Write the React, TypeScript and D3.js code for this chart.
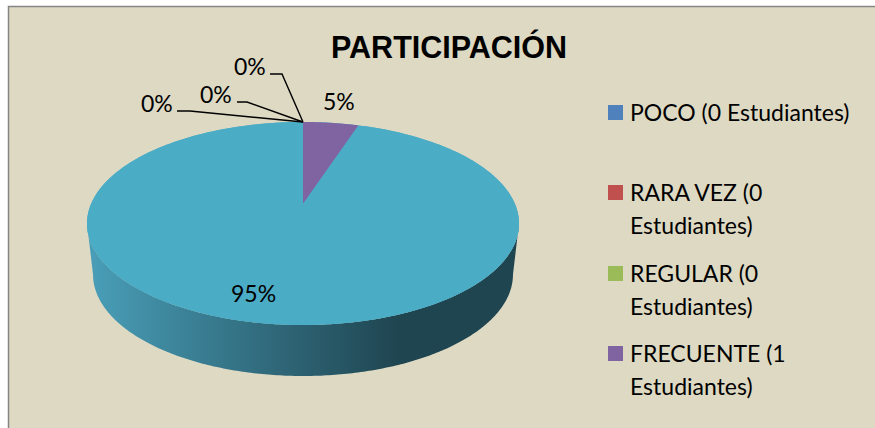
import React from "react";
import * as d3 from "d3";

const categories = ["POCO", "RARA VEZ", "REGULAR", "FRECUENTE", "MUCHO"];
const values = [0, 0, 0, 1, 19];
const sliceColors = ["#4F81BD", "#C0504D", "#9BBB59", "#8064A2", "#4BACC6"];
const dataLabels = ["0%", "0%", "0%", "5%", "95%"];
const legendLines = [
  ["POCO (0 Estudiantes)"],
  ["RARA VEZ (0", "Estudiantes)"],
  ["REGULAR (0", "Estudiantes)"],
  ["FRECUENTE (1", "Estudiantes)"],
];
const title = "PARTICIPACIÓN";

const W = 875, H = 428;
const cx = 303, apexY = 204;
const A = 97.76, B = 212, k = 0.192;
// perspective projection of the tilted pie disc
const project = (a: number): [number, number] => {
  const u = Math.sin(a), v = Math.cos(a), d = 1 + k * v;
  return [cx + (B * u) / d, apexY - (A * v) / d];
};
const line = d3.line();
const sample = (a0: number, a1: number, n = 240) =>
  d3.range(n + 1).map((i) => project(a0 + ((a1 - a0) * i) / n));

const arcs = d3.pie<number>().sort(null)(values);

const rimDrop = 51, rimInset = 0.972;
const below = ([x, y]: [number, number]): [number, number] => [
  cx + (x - cx) * rimInset,
  y + rimDrop,
];

const ellipseCy = 223.5;
const leftA = -Math.acos(-k) , rightA = Math.acos(-k);
const rimTop = sample(rightA, Math.PI * 2 + leftA);
const rimBottom = rimTop.map(below).reverse();
const rimPath = line([...rimTop, ...rimBottom])! + "Z";

const labelPos = [
  { x: 141, y: 112, path: [[177, 111], [190, 111], [303, 122]] },
  { x: 200, y: 103, path: [[237, 102], [247, 102], [303, 122]] },
  { x: 234, y: 75, path: [[270, 74], [282, 74], [303, 122]] },
  { x: 323, y: 110 },
  { x: 231, y: 302 },
];

const legendTop = [105, 185, 266, 346];

export default function App() {
  return (
    <svg
      width={W}
      height={H}
      viewBox={`0 0 ${W} ${H}`}
      style={{ position: "absolute", left: 0, top: 0, display: "block" }}
    >
      <defs>
        <linearGradient id="rim" gradientUnits="userSpaceOnUse" x1={87} x2={519} y1={0} y2={0}>
          <stop offset="0" stopColor="#4A9FB9" />
          <stop offset="0.25" stopColor="#3A7F94" />
          <stop offset="0.5" stopColor="#2C6070" />
          <stop offset="0.72" stopColor="#1F4550" />
          <stop offset="1" stopColor="#1F4550" />
        </linearGradient>
      </defs>
      <rect x={0} y={0} width={W} height={H} fill="#fff" />
      <rect x={8.5} y={6.5} width={W} height={H} fill="#DDD9C3" stroke="#868686" strokeWidth={1.5} />
      <path d={rimPath} fill="url(#rim)" />
      <path d={line(sample(0, Math.PI * 2))! + "Z"} fill={sliceColors[4]} />
      {arcs.map((a, i) =>
        a.endAngle > a.startAngle ? (
          <path
            key={categories[i]}
            d={line([[cx, apexY], ...sample(a.startAngle, a.endAngle, 120)])! + "Z"}
            fill={sliceColors[i]}
          />
        ) : null
      )}
      {labelPos.map((p, i) => (
        <g key={i}>
          {p.path && (
            <path d={line(p.path as [number, number][])!} fill="none" stroke="#000" strokeWidth={1.4} />
          )}
          <text x={p.x} y={p.y} fontFamily="Lato" fontSize={23} fill="#000">
            {dataLabels[i]}
          </text>
        </g>
      ))}
      <text x={331} y={58} fontFamily="Liberation Sans" fontWeight="bold" fontSize={30.5} fill="#000">
        {title}
      </text>
      {legendLines.map((lines, i) => (
        <g key={i}>
          <rect x={608} y={legendTop[i]} width={15} height={15} fill={sliceColors[i]} />
          {lines.map((t, j) => (
            <text key={j} x={630} y={legendTop[i] + 16 + j * 33} fontFamily="Lato" fontSize={23} fill="#000">
              {t}
            </text>
          ))}
        </g>
      ))}
    </svg>
  );
}
